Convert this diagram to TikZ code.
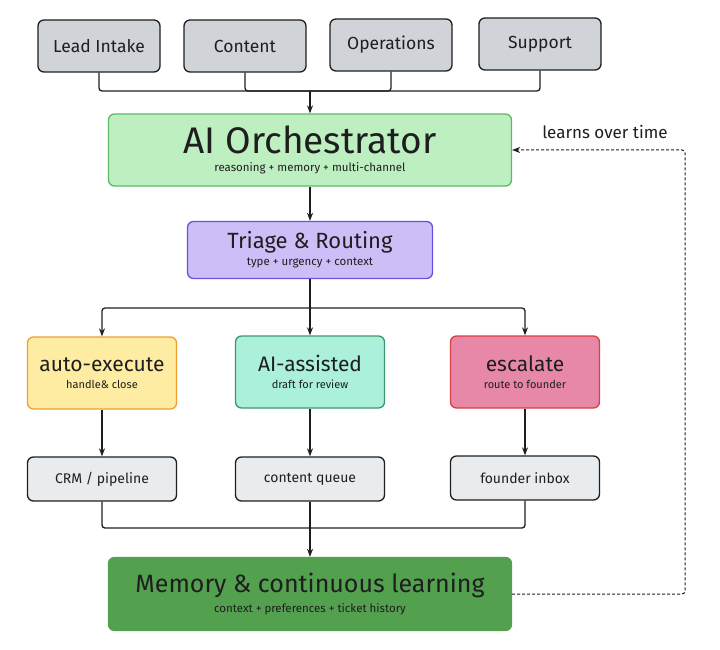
\documentclass[tikz,border=0pt]{standalone}
\usepackage{fontspec}
\setmainfont{Fira Sans}
\usetikzlibrary{arrows.meta, positioning, calc}
\definecolor{LineColor}{RGB}{30,30,30}
\definecolor{SourceFill}{RGB}{208,212,216}
\definecolor{QueueFill}{RGB}{233,236,239}
\definecolor{OrchFill}{RGB}{190,239,193}
\definecolor{OrchLine}{RGB}{94,184,104}
\definecolor{TriageFill}{RGB}{205,190,248}
\definecolor{TriageLine}{RGB}{105,80,222}
\definecolor{AutoFill}{RGB}{253,236,162}
\definecolor{AutoLine}{RGB}{240,160,50}
\definecolor{AssistFill}{RGB}{170,240,218}
\definecolor{AssistLine}{RGB}{62,150,110}
\definecolor{EscFill}{RGB}{232,136,168}
\definecolor{EscLine}{RGB}{215,65,65}
\definecolor{MemFill}{RGB}{83,160,79}
\tikzstyle{arrow} = [line width=1.3pt, LineColor, -{Stealth[length=8pt,width=6pt]}, rounded corners=3pt]
\tikzstyle{line} = [line width=1.3pt, LineColor, rounded corners=3pt]
\tikzstyle{box} = [draw=LineColor, line width=1.3pt, rounded corners=6pt, align=center, inner sep=0pt, text=LineColor]
\tikzstyle{source} = [box, fill=SourceFill, minimum width=122pt, minimum height=52pt, font=\fontsize{17.5}{20}\selectfont]
\tikzstyle{outcome} = [box, minimum width=149pt, minimum height=72pt]
\tikzstyle{queue} = [box, fill=QueueFill, minimum width=149pt, minimum height=44pt, font=\fontsize{14}{16}\selectfont]

\begin{document}
\begin{tikzpicture}[x=1pt, y=-1pt]
            \useasboundingbox (0,0) rectangle (720,650);

            % input channels
            \node[source] (lead) at (99,46) {Lead Intake};
            \node[source] (content) at (245,46) {Content};
            \node[source] (ops) at (391,45) {Operations};
            \node[source] (support) at (540,44) {Support};
            \coordinate (topbus) at (310,91);

            \node[box, fill=OrchFill, draw=OrchLine, minimum width=403pt, minimum height=72pt] (orch) at (310,150)
                {{\fontsize{37}{38}\selectfont AI Orchestrator}\\[6pt]{\fontsize{11.5}{13}\selectfont reasoning + memory + multi-channel}};
            \node[font=\fontsize{17}{19}\selectfont, text=LineColor] (learns) at (605,132) {learns over time};

            \node[box, fill=TriageFill, draw=TriageLine, minimum width=245pt, minimum height=57pt] (triage) at (310,250)
                {{\fontsize{22}{24}\selectfont Triage \& Routing}\\[4pt]{\fontsize{11.5}{13}\selectfont type + urgency + context}};
            \coordinate (split) at (310,308);

            % three lanes
            \node[outcome, fill=AutoFill, draw=AutoLine] (auto) at (102,373)
                {{\fontsize{21}{23}\selectfont auto-execute}\\[5pt]{\fontsize{11}{13}\selectfont handle\& close}};
            \node[outcome, fill=AssistFill, draw=AssistLine] (assist) at (310,372)
                {{\fontsize{21}{23}\selectfont AI-assisted}\\[5pt]{\fontsize{11}{13}\selectfont draft for review}};
            \node[outcome, fill=EscFill, draw=EscLine] (escalate) at (525,372)
                {{\fontsize{21}{23}\selectfont escalate}\\[5pt]{\fontsize{11}{13}\selectfont route to founder}};

            \node[queue] (crm) at (102,479) {CRM / pipeline};
            \node[queue] (cqueue) at (310,479) {content queue};
            \node[queue] (inbox) at (525,478) {founder inbox};
            \coordinate (botbus) at (310,528);

            \node[box, fill=MemFill, draw=MemFill, minimum width=403pt, minimum height=73pt] (memory) at (310,594)
                {{\fontsize{25}{27}\selectfont Memory \& continuous learning}\\[4pt]{\fontsize{11.5}{13}\selectfont context + preferences + ticket history}};
            \coordinate (loopcorner) at (685,150);

            % connectors
            \foreach \src in {lead, content, ops, support} {
                \draw[line] (\src.south) |- (topbus);
            }
            \draw[arrow] (topbus) -- (orch.north);
            \draw[arrow] (orch.south) -- (triage.north);
            \draw[line] (triage.south) -- (split);
            \foreach \dst in {auto, assist, escalate} {
                \draw[arrow] (split) -| (\dst.north);
            }
            \draw[arrow] (auto.south) -- (crm.north);
            \draw[arrow] (assist.south) -- (cqueue.north);
            \draw[arrow] (escalate.south) -- (inbox.north);
            \foreach \src in {crm, cqueue, inbox} {
                \draw[line] (\src.south) |- (botbus);
            }
            \draw[arrow] (botbus) -- (memory.north);
            \draw[arrow, line width=1pt, dash pattern=on 3pt off 2pt] (memory.east) -| (loopcorner) -- (orch.east);
        \end{tikzpicture}
\end{document}
